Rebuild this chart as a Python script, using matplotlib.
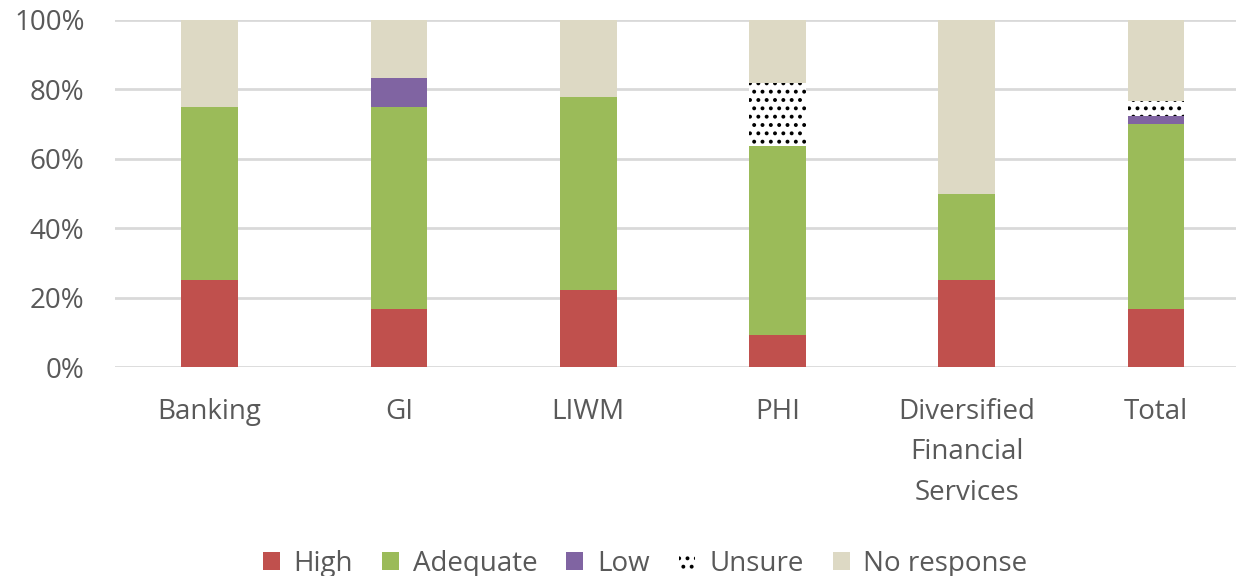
import matplotlib.pyplot as plt
import numpy as np

plt.rcParams['font.family'] = ['Open Sans', 'DejaVu Sans']
plt.rcParams['hatch.linewidth'] = 1.6

# Data (share of responses, %)
categories = ['Banking', 'GI', 'LIWM', 'PHI', 'Diversified\nFinancial\nServices', 'Total']
high = [25.0, 16.7, 22.2, 9.1, 25.0, 16.7]
adequate = [50.0, 58.3, 55.6, 54.5, 25.0, 53.3]
low = [0.0, 8.3, 0.0, 0.0, 0.0, 2.2]
unsure = [0.0, 0.0, 0.0, 18.2, 0.0, 4.4]
no_response = [25.0, 16.7, 22.2, 18.2, 50.0, 23.4]

series = [
    ('High', high, '#C0504D', None),
    ('Adequate', adequate, '#9BBB59', None),
    ('Low', low, '#8064A2', None),
    ('Unsure', unsure, 'white', '..'),
    ('No response', no_response, '#DDD9C4', None),
]

text_color = '#595959'

fig = plt.figure(figsize=(12.36, 5.76), dpi=100)
ax = fig.add_axes([115 / 1236, 1 - 367 / 576, 1 - 115 / 1236, 347 / 576])

x = np.arange(len(categories))
bottom = np.zeros(len(categories))
for name, vals, color, hatch in series:
    vals = np.array(vals)
    if hatch:
        ax.bar(x, vals, 0.3, bottom=bottom, color=color, edgecolor='black',
               hatch=hatch, linewidth=0, label=name, zorder=3)
    else:
        ax.bar(x, vals, 0.3, bottom=bottom, color=color, linewidth=0,
               label=name, zorder=3)
    bottom += vals

ax.set_ylim(0, 100)
ax.set_xlim(-0.5, 5 + 80 / 189.3)
ax.set_yticks(np.arange(0, 101, 20))
ax.set_yticklabels([f'{v}%' for v in range(0, 101, 20)])
ax.set_xticks(x)
ax.set_xticklabels(categories, linespacing=1.6)
ax.yaxis.grid(True, color='#D9D9D9', linewidth=2, zorder=0)
ax.set_axisbelow(True)
for s in ax.spines.values():
    s.set_visible(False)
ax.tick_params(axis='y', length=0, pad=22, labelsize=20, labelcolor=text_color)
ax.tick_params(axis='x', length=0, pad=22, labelsize=20, labelcolor=text_color)

fig.legend(loc='lower center', bbox_to_anchor=(0.522, -0.047), ncol=5, frameon=False,
           fontsize=20, labelcolor=text_color, handlelength=0.6, handleheight=0.6,
           handletextpad=0.5, columnspacing=1.05)

fig.savefig('out.png', dpi=100)
